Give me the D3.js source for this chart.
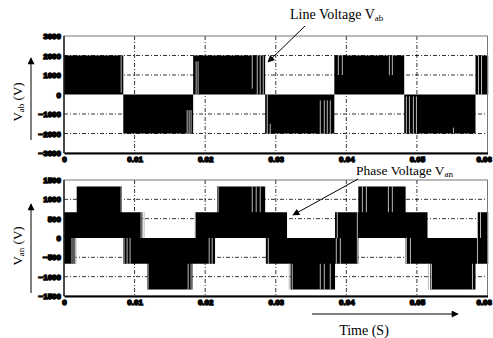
<!DOCTYPE html>
<html>
<head>
<meta charset="utf-8">
<script src="https://cdn.jsdelivr.net/npm/d3@7"></script>
<style>
  body { margin: 0; background: #fff; }
  .tick text { font-family: "Liberation Sans", sans-serif; font-weight: bold; font-size: 8px; fill: #000; stroke: #000; stroke-width: 1.3px; }
  .serif { font-family: "Liberation Serif", "Times New Roman", serif; fill: #000; }
</style>
</head>
<body>
<script>
// time axis (s)
const timeTicks = [0, 0.01, 0.02, 0.03, 0.04, 0.05, 0.06];
const tEnd = 0.0601;

// line voltage Vab (V)
const vabTicks = [-3000, -2000, -1000, 0, 1000, 2000, 3000];
const vabEdges = [0, 0.0084, 0.0183, 0.0285, 0.0383, 0.0482, 0.0583];
const vabHi = [2000, 0, 2000, 0, 2000, 0, 2000];
const vabLo = [0, -2000, 0, -2000, 0, -2000, 0];
// PWM notches [t, v0, v1]
const vabNotches = [
  [0.0081, 100, 2000],
  [0.01745, -2000, -800], [0.01773, -2000, -800], [0.0180, -2000, -800],
  [0.01872, 0, 1700], [0.0190, 0, 1700],
  [0.02667, 300, 2000], [0.02738, 0, 2000], [0.0278, 0, 2000], [0.02823, 0, 2000],
  [0.0288, -2000, 0], [0.02922, -2000, -1500],
  [0.03631, -2000, -300], [0.03688, -2000, -300], [0.0373, -2000, -300], [0.03773, -2000, -300],
  [0.03887, 1000, 2000], [0.03943, 1000, 2000],
  [0.0461, 1000, 2000], [0.04652, 1000, 2000],
  [0.04851, -2000, -100], [0.04894, -2000, -100], [0.0495, -2000, -100], [0.04993, -2000, -100],
  [0.05518, -2000, -1700],
  [0.05872, 0, 2000], [0.05915, 0, 2000]
];

// phase voltage Van (V)
const vanTicks = [-1500, -1000, -500, 0, 500, 1000, 1500];
const vanHiEdges = [0, 0.0018, 0.0082, 0.0111, 0.0186, 0.0217, 0.0285, 0.0316, 0.0384, 0.0417, 0.0484, 0.0515, 0.0586];
const vanHi = [667, 1333, 667, 0, 667, 1333, 667, 0, 667, 1333, 667, 0, 667];
const vanLoEdges = [0, 0.0016, 0.0084, 0.0118, 0.0182, 0.0214, 0.0286, 0.0321, 0.0384, 0.0417, 0.0484, 0.0519, 0.0583];
const vanLo = [-667, 0, -667, -1333, -667, 0, -667, -1333, -667, 0, -667, -1333, -667];
const vanNotches = [
  [0.00113, -667, 0], [0.00142, -667, 0], [0.0017, -667, 0],
  [0.00809, 667, 1333],
  [0.00851, -667, 0], [0.00894, -667, 0], [0.00936, -667, 0],
  [0.01092, 0, 667], [0.01135, 0, 667], [0.01191, -1333, -667],
  [0.01759, -1333, -667], [0.01801, -1333, -667],
  [0.01858, 0, 667],
  [0.02057, -667, 0], [0.02099, -667, 0],
  [0.02184, 667, 1333],
  [0.02667, 667, 1333], [0.02723, 667, 1333], [0.0278, 667, 1333],
  [0.02894, -667, 0],
  [0.03191, -1333, -667], [0.03234, -1333, -667],
  [0.03631, -1333, -667], [0.03688, -1333, -667], [0.03773, -1333, -667],
  [0.03858, -667, 0], [0.03872, 0, 667], [0.03915, -667, 0],
  [0.04156, -667, 667],
  [0.04227, 667, 1333], [0.04284, 667, 1333],
  [0.04596, 667, 1333], [0.04652, 667, 1333],
  [0.04851, -667, 0], [0.04908, -667, 0],
  [0.05163, -1333, -667], [0.05206, -1333, -667],
  [0.05787, -1333, -667],
  [0.05858, -667, 667], [0.05901, 0, 667]
];

const W = 493, H = 338;
const svg = d3.select("body").append("svg").attr("width", W).attr("height", H);

const defs = svg.append("defs");
defs.append("marker").attr("id", "arr")
  .attr("viewBox", "0 0 10 10").attr("refX", 9).attr("refY", 5)
  .attr("markerWidth", 9).attr("markerHeight", 7).attr("orient", "auto")
  .attr("markerUnits", "userSpaceOnUse")
  .append("path").attr("d", "M0,0L10,5L0,10z").attr("fill", "#000");

const x = d3.scaleLinear().domain([0, 0.06]).range([64, 487.5]);

function steps(edges, vals) {
  const pts = edges.map((t, i) => ({ t: t, v: vals[i] }));
  pts.push({ t: tEnd, v: vals[vals.length - 1] });
  return pts;
}

function panel(top, bottom, ticks, upper, lower, notches) {
  const y = d3.scaleLinear().domain([ticks[0], ticks[ticks.length - 1]]).range([bottom, top]);
  const g = svg.append("g");

  // grid
  const dash = "4,2,1,2";
  g.selectAll(".vg").data(timeTicks.slice(1, -1)).enter().append("line")
    .attr("x1", d => x(d)).attr("x2", d => x(d)).attr("y1", top).attr("y2", bottom)
    .attr("stroke", "#000").attr("stroke-width", 0.8).attr("stroke-dasharray", dash);
  g.selectAll(".hg").data(ticks.filter(d => d !== 0 && d !== ticks[0] && d !== ticks[ticks.length - 1])).enter().append("line")
    .attr("x1", x(0)).attr("x2", x(0.06)).attr("y1", d => y(d)).attr("y2", d => y(d))
    .attr("stroke", "#000").attr("stroke-width", 0.8).attr("stroke-dasharray", dash);

  // waveform envelopes
  const area = d3.area().curve(d3.curveStepAfter)
    .x(d => x(d.t)).y0(y(0)).y1(d => y(d.v));
  g.append("path").datum(upper).attr("d", area).attr("fill", "#000");
  g.append("path").datum(lower).attr("d", area).attr("fill", "#000");

  // PWM notches
  g.selectAll(".n").data(notches).enter().append("line")
    .attr("x1", d => x(d[0])).attr("x2", d => x(d[0]))
    .attr("y1", d => y(d[1])).attr("y2", d => y(d[2]))
    .attr("stroke", "#b8b8b8").attr("stroke-width", 1);

  // frame
  g.append("rect").attr("x", x(0)).attr("y", top).attr("width", x(0.06) - x(0)).attr("height", bottom - top)
    .attr("fill", "none").attr("stroke", "#777").attr("stroke-width", 1);
  g.append("line").attr("x1", x(0)).attr("x2", x(0)).attr("y1", top).attr("y2", bottom)
    .attr("stroke", "#000").attr("stroke-width", 1.2);

  // axes
  const ax = g.append("g").attr("transform", `translate(0,${bottom})`)
    .call(d3.axisBottom(x).tickValues(timeTicks).tickSize(0).tickPadding(3).tickFormat(d3.format("")));
  ax.select(".domain").attr("stroke", "#000").attr("stroke-width", 2);
  // last label kept inside the window
  ax.selectAll(".tick text").filter(d => d === timeTicks[timeTicks.length - 1])
    .attr("text-anchor", "end").attr("dx", 4);
  const ay = g.append("g").attr("transform", `translate(${x(0)},0)`)
    .call(d3.axisLeft(y).tickValues(ticks).tickSize(0).tickPadding(3).tickFormat(d3.format("")));
  ay.select(".domain").remove();
  return y;
}

panel(36, 153, vabTicks, steps(vabEdges, vabHi), steps(vabEdges, vabLo), vabNotches);
panel(180, 296, vanTicks, steps(vanHiEdges, vanHi), steps(vanLoEdges, vanLo), vanNotches);

// y-axis titles with arrows
function yTitle(cy, sub, y1, y2) {
  const t = svg.append("text").attr("class", "serif")
    .attr("transform", `translate(22,${cy}) rotate(-90)`)
    .attr("text-anchor", "middle").attr("font-size", 13);
  t.append("tspan").text("V");
  t.append("tspan").attr("font-size", 9).attr("dy", 2).text(sub);
  t.append("tspan").attr("dy", -2).text(" (V)");
  svg.append("line").attr("x1", 31).attr("x2", 31).attr("y1", y1).attr("y2", y2)
    .attr("stroke", "#000").attr("stroke-width", 1).attr("marker-end", "url(#arr)");
}
yTitle(102, "ab", 140, 58);
yTitle(246, "an", 293, 204);

// annotations
function label(px, py, main, sub, size) {
  const t = svg.append("text").attr("class", "serif").attr("x", px).attr("y", py).attr("font-size", size);
  t.append("tspan").text(main);
  t.append("tspan").attr("font-size", 9).attr("dy", 2).text(sub);
}
label(290, 19, "Line Voltage V", "ab", 14);
svg.append("line").attr("x1", 305).attr("y1", 26).attr("x2", 268).attr("y2", 62)
  .attr("stroke", "#000").attr("stroke-width", 1).attr("marker-end", "url(#arr)");

label(356, 175, "Phase Voltage V", "an", 13.5);
svg.append("line").attr("x1", 358).attr("y1", 179).attr("x2", 293).attr("y2", 215)
  .attr("stroke", "#000").attr("stroke-width", 1).attr("marker-end", "url(#arr)");

// time arrow
svg.append("line").attr("x1", 312).attr("y1", 314).attr("x2", 458).attr("y2", 314)
  .attr("stroke", "#000").attr("stroke-width", 1).attr("marker-end", "url(#arr)");
svg.append("text").attr("class", "serif").attr("x", 364).attr("y", 335)
  .attr("text-anchor", "middle").attr("font-size", 14).text("Time (S)");
</script>
</body>
</html>
